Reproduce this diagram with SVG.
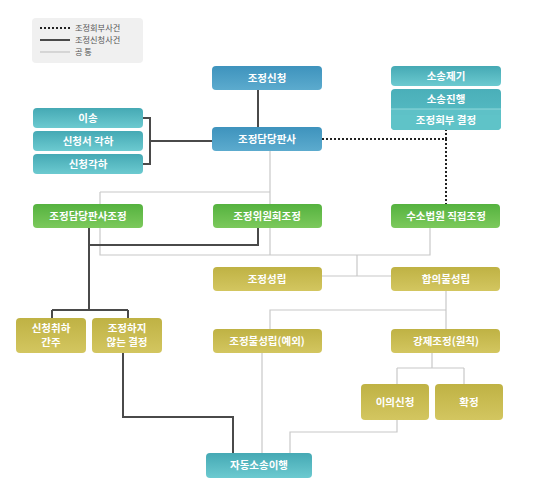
<svg xmlns="http://www.w3.org/2000/svg" width="540" height="488" viewBox="0 0 540 488">
<defs>
<linearGradient id="gBlue" x1="0" y1="0" x2="0" y2="1"><stop offset="0" stop-color="#3e93bd"/><stop offset="1" stop-color="#5cabce"/></linearGradient>
<linearGradient id="gTeal" x1="0" y1="0" x2="0" y2="1"><stop offset="0" stop-color="#45a9b4"/><stop offset="1" stop-color="#6ccad0"/></linearGradient>
<linearGradient id="gTeal2" x1="0" y1="0" x2="0" y2="1"><stop offset="0" stop-color="#4aafb9"/><stop offset="1" stop-color="#5cc0c7"/></linearGradient>
<linearGradient id="gGreen" x1="0" y1="0" x2="0" y2="1"><stop offset="0" stop-color="#55b23f"/><stop offset="1" stop-color="#7cc95c"/></linearGradient>
<linearGradient id="gYellow" x1="0" y1="0" x2="0" y2="1"><stop offset="0" stop-color="#bfb244"/><stop offset="1" stop-color="#d3c660"/></linearGradient>
</defs>
<style>
text{font-family:"Noto Sans CJK KR","Noto Sans",sans-serif;font-size:10.5px;font-weight:bold;fill:#ffffff;text-anchor:middle}
.lg{fill:#555555;font-weight:normal;text-anchor:start;font-size:8.2px}
.dark{fill:none;stroke:#4a4a4a;stroke-width:2}
.thin{fill:none;stroke:#c8c8c8;stroke-width:1.2}
.dot{fill:none;stroke:#222222;stroke-width:2;stroke-dasharray:2 2}
.blue{fill:url(#gBlue)}
.teal{fill:url(#gTeal)}
.green{fill:url(#gGreen)}
.yellow{fill:url(#gYellow)}
</style>
<rect width="540" height="488" fill="#ffffff"/>
<g id="legend">
<rect x="32" y="18" width="111" height="45" rx="4" fill="#f0f0f0"/>
<line x1="40" y1="28" x2="70" y2="28" class="dot"/>
<text x="75" y="31" class="lg">조정회부사건</text>
<line x1="40" y1="40" x2="70" y2="40" class="dark"/>
<text x="75" y="43" class="lg">조정신청사건</text>
<line x1="40" y1="52" x2="70" y2="52" stroke="#bbbbbb" stroke-width="1"/>
<text x="75" y="55" class="lg">공 통</text>
</g>
<g id="connectors">
<path class="thin" d="M270 150V255M100 192H270M100 192V255H430V228M357 255V276M322 276H391"/>
<path class="thin" d="M446 291V310H270V329M446 310V329"/>
<path class="thin" d="M262 353V453"/>
<path class="thin" d="M432 353V368M397 368H464M397 368V384M464 368V384"/>
<path class="thin" d="M397 420V432H290V453"/>
<path class="dark" d="M143 118H150V164H143M150 141H213"/>
<path class="dark" d="M258 89V127"/>
<path class="dark" d="M89 228V310M258 228V245H89M52 310H128M52 310V318M128 310V318"/>
<path class="dark" d="M123 353V417H233V453"/>
<path class="dot" d="M322 139H446V130M446 139V204"/>
</g>
<g id="n-isong"><rect x="33" y="108" width="110" height="20" rx="4" class="teal"/><text x="88" y="122">이송</text></g>
<g id="n-sincheongseo"><rect x="33" y="131" width="110" height="20" rx="4" class="teal"/><text x="88" y="145">신청서 각하</text></g>
<g id="n-sincheonggakha"><rect x="33" y="154" width="110" height="20" rx="4" class="teal"/><text x="88" y="168">신청각하</text></g>
<g id="n-jojeongsincheong"><rect x="212" y="66" width="110" height="24" rx="4" class="blue"/><text x="267" y="82">조정신청</text></g>
<g id="n-damdang"><rect x="212" y="127" width="110" height="24" rx="4" class="blue"/><text x="267" y="143">조정담당판사</text></g>
<g id="n-sosongjegi"><rect x="391" y="66" width="110" height="20" rx="4" class="teal"/><text x="446" y="80">소송제기</text></g>
<g id="n-sosongjinhaeng"><rect x="391" y="89" width="110" height="41" rx="4" fill="url(#gTeal2)"/><rect x="391" y="109" width="110" height="21" rx="4" fill="#5fc3c8"/><rect x="391" y="109" width="110" height="6" fill="#5ec1c7"/><line x1="391" y1="109" x2="501" y2="109" stroke="#8fd6da" stroke-width="1"/><text x="446" y="103">소송진행</text><text x="446" y="124">조정회부 결정</text></g>
<g id="n-damdangjojeong"><rect x="33" y="204" width="110" height="24" rx="4" class="green"/><text x="88" y="220">조정담당판사조정</text></g>
<g id="n-wiwonhoe"><rect x="213" y="204" width="109" height="24" rx="4" class="green"/><text x="267" y="220">조정위원회조정</text></g>
<g id="n-sosobeobwon"><rect x="391" y="204" width="109" height="24" rx="4" class="green"/><text x="446" y="220">수소법원 직접조정</text></g>
<g id="n-seongnip"><rect x="213" y="267" width="109" height="24" rx="4" class="yellow"/><text x="267" y="283">조정성립</text></g>
<g id="n-hapui"><rect x="391" y="267" width="109" height="24" rx="4" class="yellow"/><text x="446" y="283">합의불성립</text></g>
<g id="n-chwiha"><rect x="16" y="318" width="70" height="35" rx="4" class="yellow"/><text x="51" y="332">신청취하</text><text x="51" y="346">간주</text></g>
<g id="n-hajianeun"><rect x="92" y="318" width="70" height="35" rx="4" class="yellow"/><text x="127" y="332">조정하지</text><text x="127" y="346">않는 결정</text></g>
<g id="n-bulseongnip"><rect x="213" y="329" width="109" height="24" rx="4" class="yellow"/><text x="267" y="345">조정불성립(예외)</text></g>
<g id="n-gangje"><rect x="391" y="329" width="109" height="24" rx="4" class="yellow"/><text x="446" y="345">강제조정(원칙)</text></g>
<g id="n-iui"><rect x="361" y="384" width="68" height="36" rx="4" class="yellow"/><text x="395" y="406">이의신청</text></g>
<g id="n-hwakjeong"><rect x="435" y="384" width="68" height="36" rx="4" class="yellow"/><text x="469" y="406">확정</text></g>
<g id="n-jadong"><rect x="206" y="453" width="106" height="25" rx="4" class="teal"/><text x="259" y="469">자동소송이행</text></g>
</svg>
